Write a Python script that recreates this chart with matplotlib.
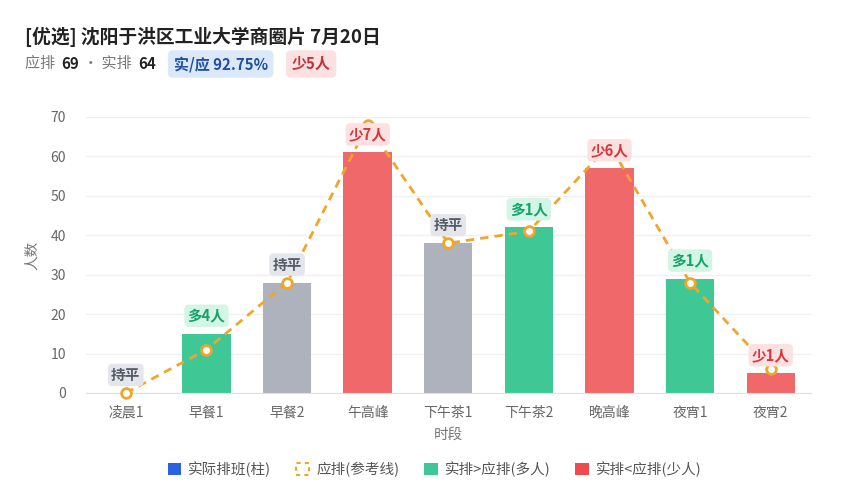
import matplotlib
matplotlib.use("Agg")
import matplotlib.pyplot as plt
from matplotlib.patches import Patch

plt.rcParams['font.family'] = ['Noto Sans CJK SC', 'DejaVu Sans']

# data
slots = ["凌晨1", "早餐1", "早餐2", "午高峰", "下午茶1", "下午茶2", "晚高峰", "夜宵1", "夜宵2"]
actual = [0, 15, 28, 61, 38, 42, 57, 29, 5]
expected = [0, 11, 28, 68, 38, 41, 63, 28, 6]
diff_labels = ["持平", "多4人", "持平", "少7人", "持平", "多1人", "少6人", "多1人", "少1人"]

GREEN = "#3fc896"
RED = "#f0686a"
GRAY = "#aeb2bd"
ORANGE = "#f0a52c"

fig = plt.figure(figsize=(8.44, 5.0), dpi=100)
ax = fig.add_axes([85.5 / 844, 1 - 393 / 500, (811 - 85.5) / 844, (393 - 117) / 500])

colors = []
for a, e in zip(actual, expected):
    if a > e:
        colors.append(GREEN)
    elif a < e:
        colors.append(RED)
    else:
        colors.append(GRAY)

x = list(range(len(slots)))
ax.bar(x, actual, width=0.6, color=colors, zorder=2)
ax.plot(x, expected, color=ORANGE, lw=2, ls=(0, (3, 2.2)), marker="o", ms=7,
        mfc="white", mec=ORANGE, mew=2, zorder=3, clip_on=False)

# badges
badge_style = {
    GREEN: ("#d3f5e5", "#17a06a"),
    RED: ("#fde0e0", "#d8353b"),
    GRAY: ("#e4e6ec", "#555b66"),
}
for i, (a, lab, c) in enumerate(zip(actual, diff_labels, colors)):
    bg, fg = badge_style[c]
    ax.annotate(lab, (i, a), xytext=(0, 13), textcoords="offset points",
                ha="center", va="center", fontsize=10.5, fontweight="bold", color=fg,
                bbox=dict(boxstyle="round,pad=0.22,rounding_size=0.3", fc=bg, ec="none"),
                zorder=5)

ax.set_xlim(-0.5, 8.5)
ax.set_ylim(0, 70)
ax.set_yticks(range(0, 71, 10))
ax.set_xticks(x)
ax.set_xticklabels(slots)
ax.tick_params(axis="both", length=0, colors="#666666", labelsize=10)
ax.tick_params(axis="x", pad=9)
ax.tick_params(axis="y", pad=14)
ax.grid(axis="y", color="#f0f0f0", lw=1, zorder=0)
for s in ["top", "right", "left"]:
    ax.spines[s].set_visible(False)
ax.spines["bottom"].set_color("#e0e0e0")
ax.set_xlabel("时段", color="#777777", fontsize=10.5, labelpad=6)
ax.set_ylabel("人数", color="#777777", fontsize=10.5, labelpad=8)

# title
fig.text(25 / 844, 1 - 37 / 500, "[优选] 沈阳于洪区工业大学商圈片 7月20日",
         fontsize=13.5, fontweight="bold", color="#222222", va="center")

# subtitle pieces laid out left to right
fig.canvas.draw()
renderer = fig.canvas.get_renderer()
pieces = [
    ("应排  ", "#777777", "normal", None),
    ("69", "#222222", "bold", None),
    (" · 实排  ", "#777777", "normal", None),
    ("64", "#222222", "bold", None),
    ("gap", None, None, 18),
    ("实/应 92.75%", "#1f4f9e", "bold", "#dbe8fa"),
    ("gap", None, None, 24),
    ("少5人", "#c0323a", "bold", "#fde0e0"),
]
px = 25
ypos = 1 - 64 / 500
for txt, col, wt, bg in pieces:
    if txt == "gap":
        px += bg
        continue
    kw = {}
    if bg:
        kw["bbox"] = dict(boxstyle="round,pad=0.38,rounding_size=0.35", fc=bg, ec="none")
    t = fig.text(px / 844, ypos, txt, fontsize=10.8, fontweight=wt, color=col, va="center", **kw)
    bb = t.get_window_extent(renderer)
    px += bb.width

# legend
handles = [
    Patch(fc="#2a62e0", ec="none"),
    Patch(fc="none", ec=ORANGE, ls=(0, (2, 2)), lw=1.5),
    Patch(fc=GREEN, ec="none"),
    Patch(fc="#ee4b4d", ec="none"),
]
labels = ["实际排班(柱)", "应排(参考线)", "实排>应排(多人)", "实排<应排(少人)"]
leg = fig.legend(handles, labels, loc="center", bbox_to_anchor=(0.515, 1 - 469 / 500),
                 ncol=4, frameon=False, fontsize=10.5, handlelength=0.9, handleheight=0.9,
                 handletextpad=0.5, columnspacing=1.7)
for t in leg.get_texts():
    t.set_color("#555555")

fig.savefig("out.png", dpi=100, facecolor="white")
